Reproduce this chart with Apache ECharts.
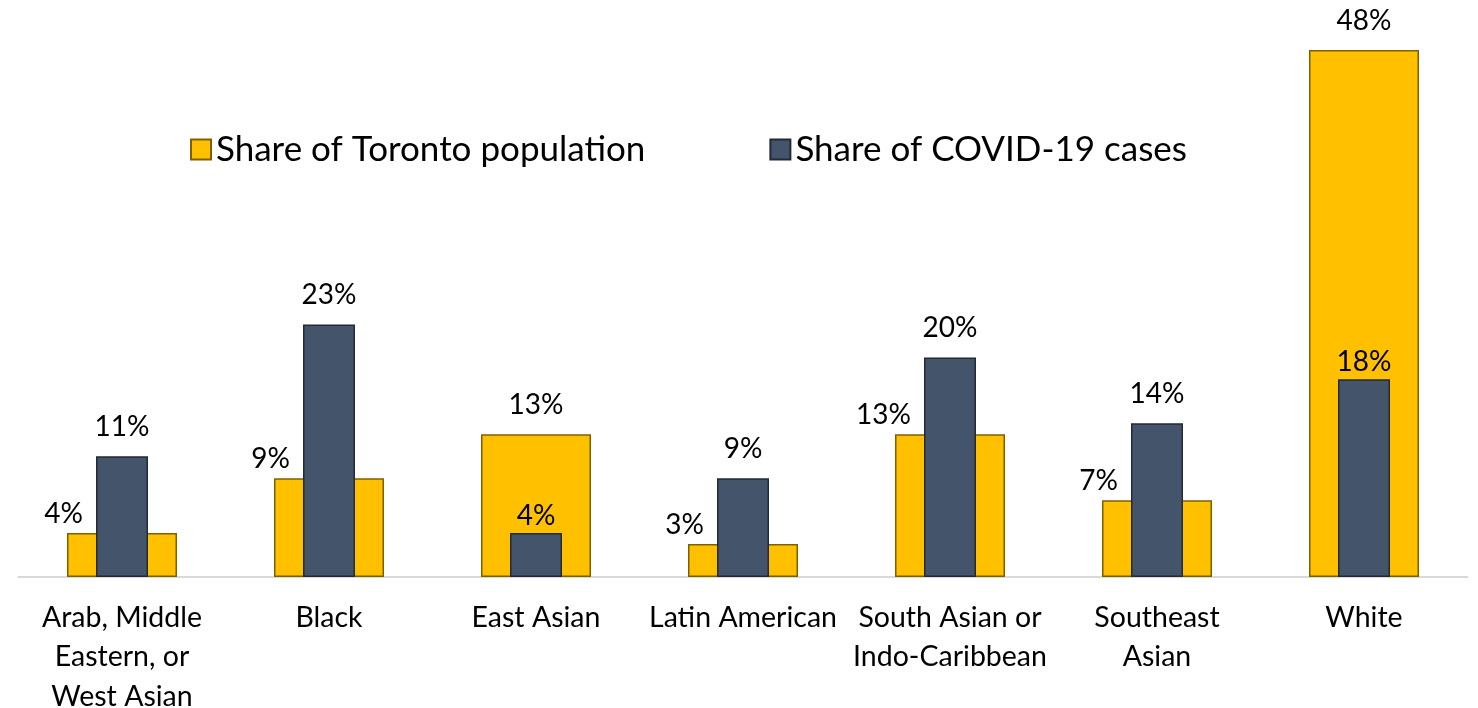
<!DOCTYPE html>
<html>
<head>
<meta charset="utf-8">
<script src="https://cdn.jsdelivr.net/npm/echarts@6/dist/echarts.min.js"></script>
<style>
  html, body { margin: 0; padding: 0; background: #fff; }
  #chart { width: 1478px; height: 708px; }
</style>
</head>
<body>
<div id="chart"></div>
<script>
const categories = [
  "Arab, Middle\nEastern, or\nWest Asian",
  "Black",
  "East Asian",
  "Latin American",
  "South Asian or\nIndo-Caribbean",
  "Southeast\nAsian",
  "White"
];
const populationShare = [4, 9, 13, 3, 13, 7, 48];
const caseShare = [11, 23, 4, 9, 20, 14, 18];

const FONT = "Lato";
const chart = echarts.init(document.getElementById("chart"));

// population label goes to the left when the cases bar is taller
const popData = populationShare.map((v, i) => {
  const shifted = caseShare[i] > v;
  return {
    value: v,
    label: shifted
      ? { align: "right", offset: [-39, 0], distance: 5 }
      : { distance: 15 }
  };
});
const caseData = caseShare.map((v, i) => ({
  value: v,
  label: { distance: populationShare[i] > v ? 3 : 15 }
}));

chart.setOption({
  animation: false,
  textStyle: { fontFamily: FONT },
  legend: {
    left: 185,
    top: 127,
    itemWidth: 20,
    itemHeight: 20,
    itemGap: 124,
    icon: "rect",
    textStyle: { fontSize: 35, color: "#000", fontFamily: FONT },
    data: ["Share of Toronto population", "Share of COVID-19 cases"]
  },
  grid: { left: 18.5, right: 10.5, top: 28, bottom: 131, outerBoundsMode: "none" },
  xAxis: [
    {
      type: "category",
      data: categories,
      axisLine: { lineStyle: { color: "#d9d9d9", width: 2 } },
      axisTick: { show: false },
      axisLabel: {
        interval: 0,
        fontSize: 28.5,
        lineHeight: 39.5,
        margin: 21,
        color: "#000",
        fontFamily: FONT
      }
    },
    {
      type: "category",
      data: categories,
      show: false
    }
  ],
  yAxis: {
    type: "value",
    min: 0,
    max: 50,
    show: false,
    splitLine: { show: false }
  },
  series: [
    {
      name: "Share of Toronto population",
      type: "bar",
      xAxisIndex: 0,
      barWidth: 110,
      data: popData,
      itemStyle: { color: "#ffc000", borderColor: "#7f6000", borderWidth: 1.5 },
      label: {
        show: true,
        position: "top",
        formatter: "{c}%",
        fontSize: 28,
        color: "#000",
        fontFamily: FONT
      }
    },
    {
      name: "Share of COVID-19 cases",
      type: "bar",
      xAxisIndex: 1,
      barWidth: 52,
      data: caseData,
      itemStyle: { color: "#44546a", borderColor: "#222a35", borderWidth: 1.5 },
      label: {
        show: true,
        position: "top",
        formatter: "{c}%",
        fontSize: 28,
        color: "#000",
        fontFamily: FONT
      }
    }
  ]
});
</script>
</body>
</html>
